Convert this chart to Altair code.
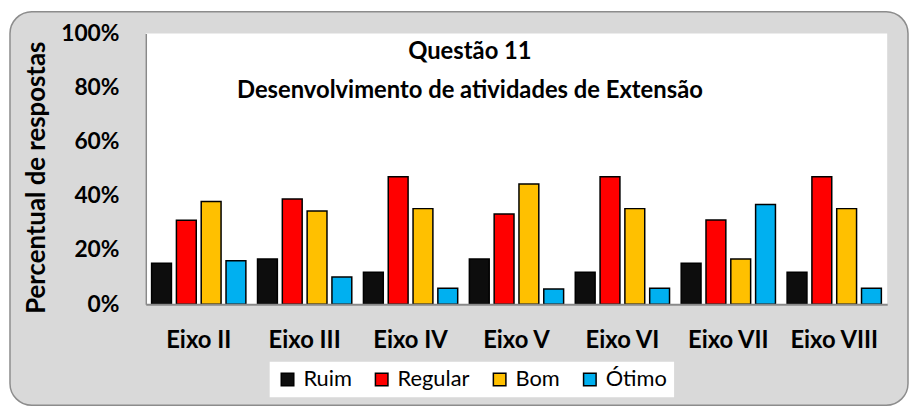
import altair as alt
import pandas as pd

eixos = ["Eixo II", "Eixo III", "Eixo IV", "Eixo V", "Eixo VI", "Eixo VII", "Eixo VIII"]
categorias = ["Ruim", "Regular", "Bom", "Ótimo"]
ruim = [15.1, 16.7, 11.8, 16.7, 11.8, 15.1, 11.8]
regular = [31.0, 38.9, 47.1, 33.3, 47.1, 31.1, 47.1]
bom = [37.9, 34.4, 35.3, 44.4, 35.3, 16.7, 35.3]
otimo = [16.0, 10.0, 5.9, 5.6, 5.9, 36.8, 5.9]
cores = ["#0D0D0D", "#FF0000", "#FFC000", "#00B0F0"]
y_ticks = [0, 0.2, 0.4, 0.6, 0.8, 1.0]

rows = []
for i, e in enumerate(eixos):
    for c, serie in zip(categorias, [ruim, regular, bom, otimo]):
        rows.append({"Eixo": e, "Resposta": c, "Valor": serie[i] / 100})
df = pd.DataFrame(rows)

W, H = 748, 273
FONT = "Lato"

one = pd.DataFrame({"k": [0]})
bg = alt.Chart(one).mark_rect(
    fill="#D9D9D9", stroke="#8C8C8C", strokeWidth=1.5, cornerRadius=22
).encode(x=alt.value(-137), x2=alt.value(769), y=alt.value(-22), y2=alt.value(375))
plotbg = alt.Chart(one).mark_rect(fill="white").encode(
    x=alt.value(0), x2=alt.value(W), y=alt.value(0), y2=alt.value(H)
)

bars = alt.Chart(df).mark_bar(stroke="black", strokeWidth=1.5).encode(
    x=alt.X(
        "Eixo:N", sort=eixos,
        scale=alt.Scale(paddingInner=0.11, paddingOuter=0.055),
        axis=alt.Axis(title=None, labelAngle=0, labelFont=FONT, labelFontWeight="bold",
                      labelFontSize=24, labelColor="black", labelPadding=25, ticks=False,
                      domainColor="#898989", domainWidth=2, zindex=1),
    ),
    xOffset=alt.XOffset("Resposta:N", sort=categorias,
                        scale=alt.Scale(paddingInner=0.2, paddingOuter=0)),
    y=alt.Y(
        "Valor:Q", scale=alt.Scale(domain=[0, 1]),
        axis=alt.Axis(format=".0%", values=y_ticks, title="Percentual de respostas",
                      grid=False, ticks=False, labelFont=FONT, labelFontWeight="bold",
                      labelFontSize=23, labelColor="black", labelPadding=27,
                      domainColor="#898989", domainWidth=1.5, zindex=1,
                      titleFont=FONT, titleFontSize=26, titleFontWeight="bold", titleColor="black",
                      titleAngle=270, titleX=-110, titleY=145, titleAlign="center",
                      titleBaseline="middle"),
    ),
    color=alt.Color(
        "Resposta:N", sort=categorias,
        scale=alt.Scale(domain=categorias, range=cores),
        legend=alt.Legend(title=None, orient="none", legendX=125, legendY=331,
                          direction="horizontal", fillColor="white", padding=7,
                          symbolType="square", symbolSize=160, symbolStrokeColor="black",
                          symbolStrokeWidth=1.5, labelFont=FONT, labelFontSize=22,
                          labelColor="black", columnPadding=19, labelOffset=5),
    ),
)

chart = alt.layer(bg, plotbg, bars).properties(
    width=W, height=H,
    title=alt.TitleParams(
        ["Questão 11", "Desenvolvimento de atividades de Extensão"],
        font=FONT, fontSize=24, fontWeight="bold", color="black",
        anchor="middle", frame="group", dx=-47, baseline="top", offset=-93, lineHeight=40,
    ),
    padding={"left": 139, "top": 24, "right": 22, "bottom": 103},
    autosize=alt.AutoSizeParams(type="none"),
).configure(background="white").configure_view(stroke=None)

chart.save("out.html", embed_options={"renderer": "svg", "actions": False})
